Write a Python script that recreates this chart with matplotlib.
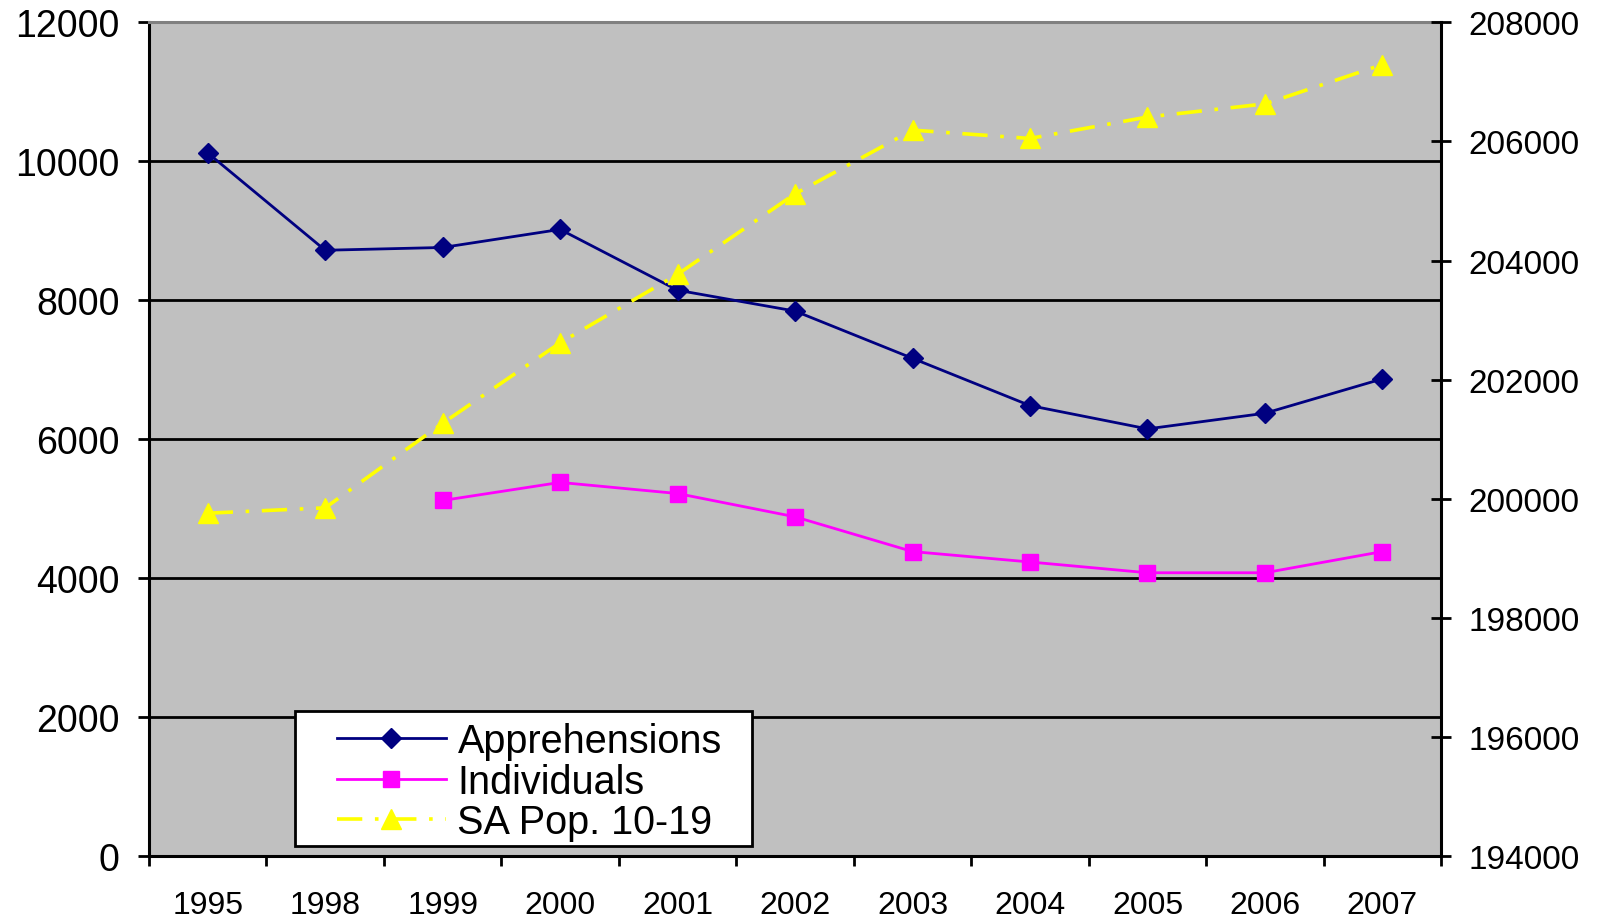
import numpy as np
import matplotlib
matplotlib.use("Agg")
import matplotlib.pyplot as plt
from matplotlib.patches import Rectangle

plt.rcParams['font.family'] = ['Liberation Sans', 'DejaVu Sans']

# values
years = ['1995', '1998', '1999', '2000', '2001', '2002', '2003', '2004', '2005', '2006', '2007']
apprehensions = [10120, 8720, 8760, 9020, 8145, 7845, 7165, 6485, 6150, 6375, 6870]
individuals = [np.nan, np.nan, 5120, 5380, 5220, 4885, 4385, 4235, 4080, 4080, 4385]
sa_pop = [199760, 199850, 201270, 202620, 203770, 205120, 206190, 206050, 206410, 206630, 207290]

left_ticks = list(range(0, 12001, 2000))
right_ticks = list(range(194000, 208001, 2000))

fig = plt.figure(figsize=(16.02, 9.2), dpi=100)
ax = fig.add_axes([0.093, 0.0681, 0.8066, 0.9066])
ax2 = ax.twinx()

x = np.arange(len(years))

# --- main axis: apprehensions + individuals ---
ax.set_facecolor('#C0C0C0')
l1, = ax.plot(x, apprehensions, color='#000080', lw=2.0, marker='D', ms=10,
              label='Apprehensions', zorder=3)
l2, = ax.plot(x, np.array(individuals, dtype=float), color='#FF00FF', lw=2.0,
              marker='s', ms=11.5, label='Individuals', zorder=3)

ax.set_xlim(-0.5, len(years) - 0.5)
ax.set_ylim(0, 12000)
ax.set_yticks(left_ticks)
ax.tick_params(axis='y', direction='out', length=8, width=2, labelsize=27, pad=13)
for y in left_ticks[1:-1]:
    ax.axhline(y, color='black', lw=2.0, zorder=1)

# category style x axis: ticks on boundaries, labels at centres
ax.set_xticks(np.arange(-0.5, len(years)), labels=[''] * (len(years) + 1))
ax.set_xticks(x, labels=years, minor=True)
ax.tick_params(axis='x', which='major', direction='out', length=7.5, width=2)
ax.tick_params(axis='x', which='minor', length=0, labelsize=23, pad=24)

for s in ['left', 'bottom']:
    ax.spines[s].set_linewidth(2.2)
ax.spines['top'].set_color('#808080')
ax.spines['top'].set_linewidth(2.2)
ax.spines['right'].set_visible(False)

# --- secondary axis: SA population 10-19 ---
l3, = ax2.plot(x, sa_pop, color='#FFFF00', lw=2.6, marker='^', ms=14,
               dashes=(7, 3.5, 1, 3.5), label='SA Pop. 10-19', zorder=3)
ax2.set_ylim(194000, 208000)
ax2.set_yticks(right_ticks)
ax2.tick_params(axis='y', direction='inout', length=15, width=2, labelsize=24, pad=12)
for s in ['left', 'bottom', 'top']:
    ax2.spines[s].set_visible(False)
ax2.spines['right'].set_linewidth(2.2)

# legend box
box = Rectangle((0.113, 0.012), 0.354, 0.162, transform=ax2.transAxes,
                facecolor='white', edgecolor='black', lw=2, zorder=5)
ax2.add_patch(box)
leg = ax2.legend(handles=[l1, l2, l3], loc='center left', bbox_to_anchor=(0.1453, 0.0895),
                 frameon=False, fontsize=28.5, handlelength=2.75, handletextpad=0.3,
                 labelspacing=0.06, borderpad=0, borderaxespad=0, numpoints=1)
leg.set_zorder(6)

fig.savefig('out.png', dpi=100)
